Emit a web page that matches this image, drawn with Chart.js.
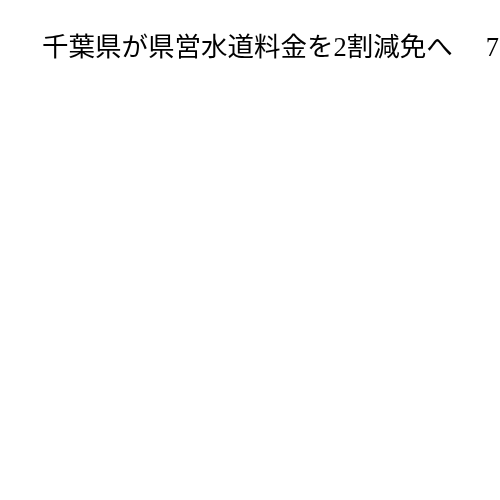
<!DOCTYPE html>
<html>
<head>
<meta charset="utf-8">
<script src="https://cdn.jsdelivr.net/npm/chart.js@4"></script>
<style>
    body { margin: 0; background: #ffffff; }
    #wrap { width: 500px; height: 500px; }
</style>
</head>
<body>
<div id="wrap"><canvas id="chart"></canvas></div>
<script>
// the reference shows only the (clipped) title, no marks at all
var titleText = "千葉県が県営水道料金を2割減免へ　 7";
var labels = [];
var values = [];

new Chart(document.getElementById("chart"), {
    type: "line",
    data: {
        labels: labels,
        datasets: [{
            data: values,
            borderColor: "#000000"
        }]
    },
    options: {
        responsive: true,
        maintainAspectRatio: false,
        animation: false,
        layout: { padding: { left: 42 } },
        scales: {
            x: { display: false },
            y: { display: false }
        },
        plugins: {
            legend: { display: false },
            tooltip: { enabled: false },
            title: {
                display: true,
                text: titleText,
                align: "start",
                color: "#000000",
                font: { family: "'Liberation Serif', 'Noto Sans CJK JP', serif", size: 26.5, weight: "normal" },
                padding: { top: 33, bottom: 10 }
            }
        }
    }
});
</script>
</body>
</html>
